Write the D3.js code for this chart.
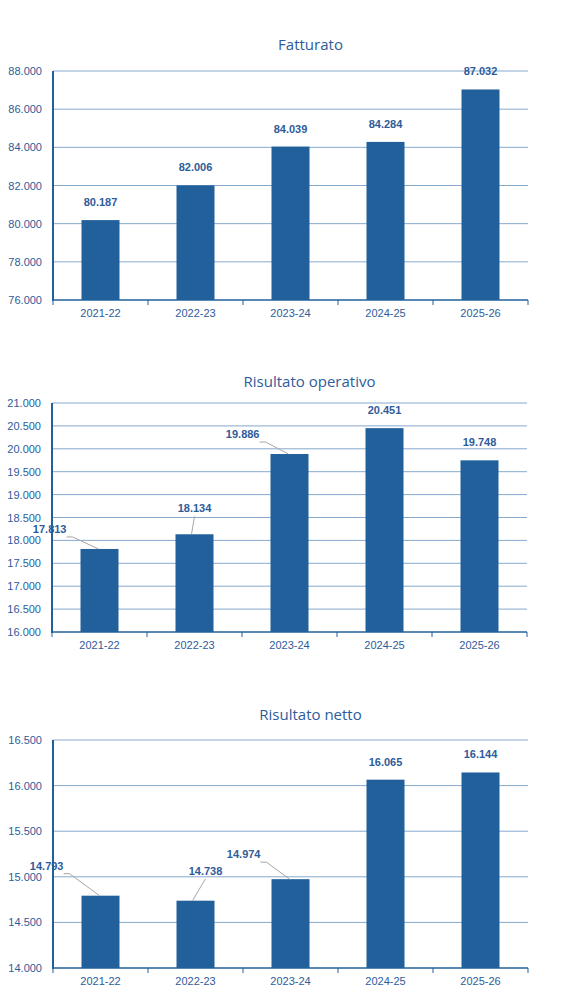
<!DOCTYPE html>
<html><head><meta charset="utf-8">
<script src="https://cdn.jsdelivr.net/npm/d3@7"></script>
<style>body{margin:0;background:#fff}</style></head>
<body><svg id="c" width="579" height="1006"></svg>
<script>
const categories=["2021-22","2022-23","2023-24","2024-25","2025-26"];
const fatturato=[80187,82006,84039,84284,87032];
const operativo=[17813,18134,19886,20451,19748];
const netto=[14793,14738,14974,16065,16144];
const fmt=d3.format(",");
const itFmt=v=>fmt(v).replace(/,/g,".");

const charts=[
 {title:"Fatturato",values:fatturato,min:76000,max:88000,step:2000,top:71,bottom:300,left:53,right:528,titleY:50,
  labels:[null,null,null,null,null]},
 {title:"Risultato operativo",values:operativo,min:16000,max:21000,step:500,top:403,bottom:632,left:52,right:527,titleY:387,
  labels:[[-23,-16],[0,-22],[-20,-16],null,null]},
 {title:"Risultato netto",values:netto,min:14000,max:16500,step:500,top:740,bottom:968,left:53,right:528,titleY:720,
  labels:[[-27,-26],[10,-26],[-20,-21],null,null]}
];
const svg=d3.select("#c");
const blue="#21609b", txt="#2e5c9a";
charts.forEach(c=>{
 const g=svg.append("g");
 const x=d3.scaleBand().domain(categories).range([c.left,c.right]).paddingInner(0.6).paddingOuter(0.3);
 const xb=d3.scaleBand().domain(categories).range([c.left,c.right]);
 const y=d3.scaleLinear().domain([c.min,c.max]).range([c.bottom,c.top]);
 const ticks=d3.range(c.min,c.max+1,c.step);
 g.append("text").attr("x",(c.left+c.right)/2+20).attr("y",c.titleY).attr("text-anchor","middle")
  .attr("font-family","Open Sans").attr("font-size",15).attr("fill",txt).text(c.title);
 g.selectAll("line.grid").data(ticks.slice(1)).join("line").attr("x1",c.left).attr("x2",c.right)
  .attr("y1",d=>y(d)).attr("y2",d=>y(d)).attr("stroke","#86a9cc").attr("stroke-width",1);
 g.selectAll("text.yt").data(ticks).join("text").attr("x",c.left-11).attr("y",d=>y(d)+4)
  .attr("text-anchor","end").attr("font-family","Liberation Sans").attr("font-size",11).attr("fill",txt).text(itFmt);
 g.selectAll("rect").data(c.values).join("rect").attr("x",(d,i)=>x(categories[i])).attr("width",x.bandwidth())
  .attr("y",d=>y(d)).attr("height",d=>c.bottom-y(d)).attr("fill",blue);
 g.append("line").attr("x1",c.left).attr("x2",c.left).attr("y1",c.top).attr("y2",c.bottom+1).attr("stroke",blue).attr("stroke-width",2);
 g.append("line").attr("x1",c.left).attr("x2",c.right).attr("y1",c.bottom).attr("y2",c.bottom).attr("stroke",blue).attr("stroke-width",1.5);
 g.selectAll("line.xt").data(categories.concat(["end"])).join("line")
  .attr("x1",(d,i)=>c.left+i*xb.bandwidth()).attr("x2",(d,i)=>c.left+i*xb.bandwidth())
  .attr("y1",c.bottom).attr("y2",c.bottom+5).attr("stroke",blue);
 g.selectAll("text.xl").data(categories).join("text").attr("x",d=>xb(d)+xb.bandwidth()/2).attr("y",c.bottom+17)
  .attr("text-anchor","middle").attr("font-family","Liberation Sans").attr("font-size",11).attr("fill",txt).text(d=>d);
 c.values.forEach((v,i)=>{
  const cx=x(categories[i])+x.bandwidth()/2, top=y(v), off=c.labels[i];
  if(off){
   const lx=cx+off[0], ly=top+off[1];
   g.append("polyline").attr("points",`${cx+(off[0]<0?-1:-3)},${top} ${lx+(off[0]<0?-4:0)},${ly+4} ${lx+(off[0]<0?-10:0)},${ly+4}`)
    .attr("fill","none").attr("stroke","#a6a6a6").attr("stroke-width",1);
   g.append("text").attr("x",off[0]<0?lx-10:lx).attr("y",ly).attr("text-anchor",off[0]<0?"end":"middle")
    .attr("font-family","Liberation Sans").attr("font-weight","bold").attr("font-size",11).attr("fill",txt).text(itFmt(v));
  } else {
   g.append("text").attr("x",cx).attr("y",top-14).attr("text-anchor","middle")
    .attr("font-family","Liberation Sans").attr("font-weight","bold").attr("font-size",11).attr("fill",txt).text(itFmt(v));
  }
 });
});
</script></body></html>
